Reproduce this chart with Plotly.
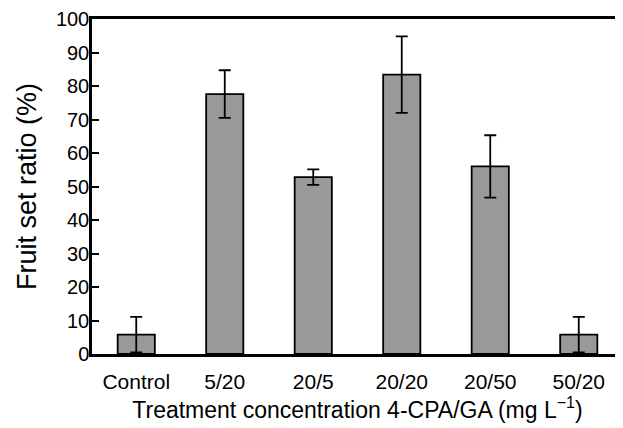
import plotly.graph_objects as go

categories = ["Control", "5/20", "20/5", "20/20", "20/50", "50/20"]
fruit_set = [5.8, 77.6, 52.8, 83.4, 56.0, 5.8]
errors = [5.3, 7.1, 2.3, 11.4, 9.3, 5.3]
y_ticks = list(range(0, 101, 10))

FONT = "Liberation Sans, Arial, sans-serif"

fig = go.Figure()
fig.add_trace(go.Bar(
    x=list(range(len(categories))),
    y=fruit_set,
    width=0.42,
    marker=dict(color="#999999", line=dict(color="black", width=1.8)),
    error_y=dict(type="data", array=errors, visible=True,
                 color="black", thickness=1.8, width=6),
))

# page body has an 8px margin, so the figure is 8px smaller than the window
fig.update_layout(
    width=615, height=420,
    margin=dict(l=84, r=0, t=11, b=74),
    plot_bgcolor="white", paper_bgcolor="white",
    font=dict(family=FONT, size=20, color="black"),
    showlegend=False,
)
fig.update_xaxes(
    tickmode="array", tickvals=list(range(len(categories))), ticktext=categories,
    range=[-0.5, 5.5],
    showline=True, linecolor="black", linewidth=2.5, mirror=True,
    ticks="", showgrid=False, zeroline=False,
    tickfont=dict(size=21), ticklabelstandoff=7,
    title=dict(text="Treatment concentration 4-CPA/GA (mg L<sup>−1</sup>)",
               font=dict(size=23), standoff=7),
)
fig.update_yaxes(
    range=[0, 100], tickmode="array", tickvals=y_ticks,
    showline=True, linecolor="black", linewidth=2.5, mirror=False,
    ticks="inside", ticklen=7, tickwidth=1.8, tickcolor="black",
    showgrid=False, zeroline=False,
    tickfont=dict(size=20), ticklabelstandoff=-4,
    title=dict(text="Fruit set ratio (%)", font=dict(size=27), standoff=12),
)

fig.write_html("out.html")
